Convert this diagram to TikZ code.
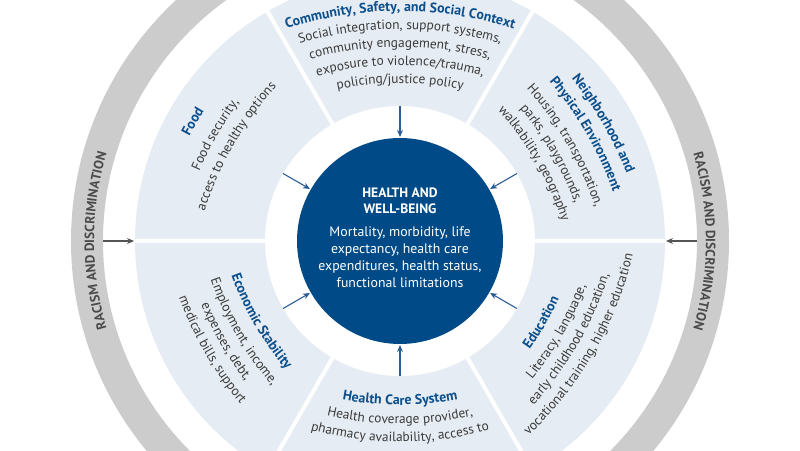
\documentclass[tikz,border=0pt]{standalone}
\usepackage{fontspec}
\setmainfont{PT Sans}
\usetikzlibrary{decorations.text,arrows.meta,calc}
\definecolor{segfill}{HTML}{E6ECF3}
\definecolor{hub}{HTML}{004B87}
\definecolor{tblue}{HTML}{0B4F8C}
\definecolor{btext}{HTML}{3A3A3A}
\definecolor{ringc}{HTML}{CCCCCC}
\definecolor{ringtext}{HTML}{4A4A4A}
\definecolor{arrgray}{HTML}{555555}
\definecolor{arrblue}{HTML}{2A5D96}
\newcommand\bodyfmt{\fontsize{13.4}{16}\selectfont\color{btext}}
\newcommand\titlefmt{\fontsize{13.9}{16}\selectfont\bfseries\color{tblue}}
\newcommand\ringfmt{\fontsize{13.4}{16}\selectfont\bfseries\color{ringtext}}
% #1 theta, #2 baseline radius at mid, #3 mode (1 top outward, -1 top inward), #4 extra radius, #5 format, #6 text
\newcommand\curvetext[6]{%
  \pgfmathsetmacro\Rr{#2+#4}%
  \pgfmathsetmacro\cxx{400-(#4)*cos(#1)}%
  \pgfmathsetmacro\cyy{209-(#4)*sin(#1)}%
  \pgfmathsetmacro\ha{170/\Rr*180/pi}%
  \ifnum#3>0 \pgfmathsetmacro\sa{#1+\ha}\pgfmathsetmacro\ea{#1-\ha}%
  \else \pgfmathsetmacro\sa{#1-\ha}\pgfmathsetmacro\ea{#1+\ha}\fi
  \pgfmathsetmacro\sxx{\cxx+\Rr*cos(\sa)}%
  \pgfmathsetmacro\syy{\cyy+\Rr*sin(\sa)}%
  \path[decorate,decoration={text along path,text align=center,text={|#5|#6}}]
    (\sxx,\syy) arc[start angle=\sa,end angle=\ea,radius=\Rr];%
}
\tikzset{
  inarrow/.style={draw=arrblue,line width=1.1pt,-{Stealth[length=7pt,width=6pt]}},
  outarrow/.style={draw=arrgray,line width=1.1pt,-{Stealth[length=7pt,width=6pt]}},
  hubhead/.style={anchor=base,text=white,font=\fontsize{13.6}{16}\selectfont\bfseries},
  hubbody/.style={anchor=base,text=white,font=\fontsize{13.8}{16}\selectfont},
}
\begin{document}
\begin{tikzpicture}[x=1pt,y=1pt]
\useasboundingbox (0,0) rectangle (800,450);
\coordinate (O) at (400,209);
% outer ring
\fill[ringc,even odd rule] (O) circle[radius=329] (O) circle[radius=297];
% segments
\fill[segfill,even odd rule] (O) circle[radius=265] (O) circle[radius=135];
\foreach \a in {0,60,...,300} {
  \coordinate (sa\a) at ($(O)+(\a:130)$);
  \coordinate (sb\a) at ($(O)+(\a:270)$);
  \draw[white,line width=4pt] (sa\a) -- (sb\a);
}
% hub
\node[circle,fill=hub,minimum size=206pt,inner sep=0pt] (hubc) at (O) {};
\node[hubhead] (h1) at (400,252.7) {HEALTH AND};
\node[hubhead] (h2) at (400,236) {WELL-BEING};
\node[hubbody] (b1) at (400,213.3) {Mortality, morbidity, life};
\node[hubbody] (b2) at (400,196) {expectancy, health care};
\node[hubbody] (b3) at (400,179.3) {expenditures, health status,};
\node[hubbody] (b4) at (400,162.3) {functional limitations};
% inner arrows
\foreach \a in {30,90,150,210,270,330} {
  \coordinate (ia\a) at ($(O)+(\a:135)$);
  \coordinate (ib\a) at ($(O)+(\a:104)$);
  \draw[inarrow] (ia\a) -- (ib\a);
}
% outer arrows
\foreach \a in {0,180} {
  \coordinate (oa\a) at ($(O)+(\a:297)$);
  \coordinate (ob\a) at ($(O)+(\a:266)$);
  \draw[outarrow] (oa\a) -- (ob\a);
}
% ring texts
\curvetext{180}{306}{1}{0}{\ringfmt}{RACISM AND DISCRIMINATION}
\curvetext{0}{306}{1}{0}{\ringfmt}{RACISM AND DISCRIMINATION}
% Community
\curvetext{90}{230}{1}{140}{\titlefmt}{Community, Safety, and Social Context}
\curvetext{90}{212}{1}{140}{\bodyfmt}{Social integration, support systems,}
\curvetext{90}{194}{1}{140}{\bodyfmt}{community engagement, stress,}
\curvetext{90}{176}{1}{140}{\bodyfmt}{exposure to violence/trauma,}
\curvetext{90}{158}{1}{140}{\bodyfmt}{policing/justice policy}
% Food
\curvetext{150}{235}{1}{140}{\titlefmt}{Food}
\curvetext{150}{211}{1}{140}{\bodyfmt}{Food security,}
\curvetext{150}{192}{1}{140}{\bodyfmt}{access to healthy options}
% Neighborhood
\curvetext{30}{234}{1}{140}{\titlefmt}{Neighborhood and}
\curvetext{30}{215}{1}{140}{\titlefmt}{Physical Environment}
\curvetext{30}{193}{1}{140}{\bodyfmt}{Housing, transportation,}
\curvetext{30}{175}{1}{140}{\bodyfmt}{parks, playgrounds,}
\curvetext{30}{157}{1}{140}{\bodyfmt}{walkability, geography}
% Economic
\curvetext{210}{168}{-1}{140}{\titlefmt}{Economic Stability}
\curvetext{210}{189}{-1}{140}{\bodyfmt}{Employment, income,}
\curvetext{210}{207}{-1}{140}{\bodyfmt}{expenses, debt,}
\curvetext{210}{225}{-1}{140}{\bodyfmt}{medical bills, support}
% Health care
\curvetext{270}{164}{-1}{140}{\titlefmt}{Health Care System}
\curvetext{270}{183}{-1}{140}{\bodyfmt}{Health coverage provider,}
\curvetext{270}{201}{-1}{140}{\bodyfmt}{pharmacy availability, access to}
% Education
\curvetext{330}{168}{-1}{140}{\titlefmt}{Education}
\curvetext{330}{188}{-1}{140}{\bodyfmt}{Literacy, language,}
\curvetext{330}{206}{-1}{140}{\bodyfmt}{early childhood education,}
\curvetext{330}{224}{-1}{140}{\bodyfmt}{vocational training, higher education}
\end{tikzpicture}
\end{document}
